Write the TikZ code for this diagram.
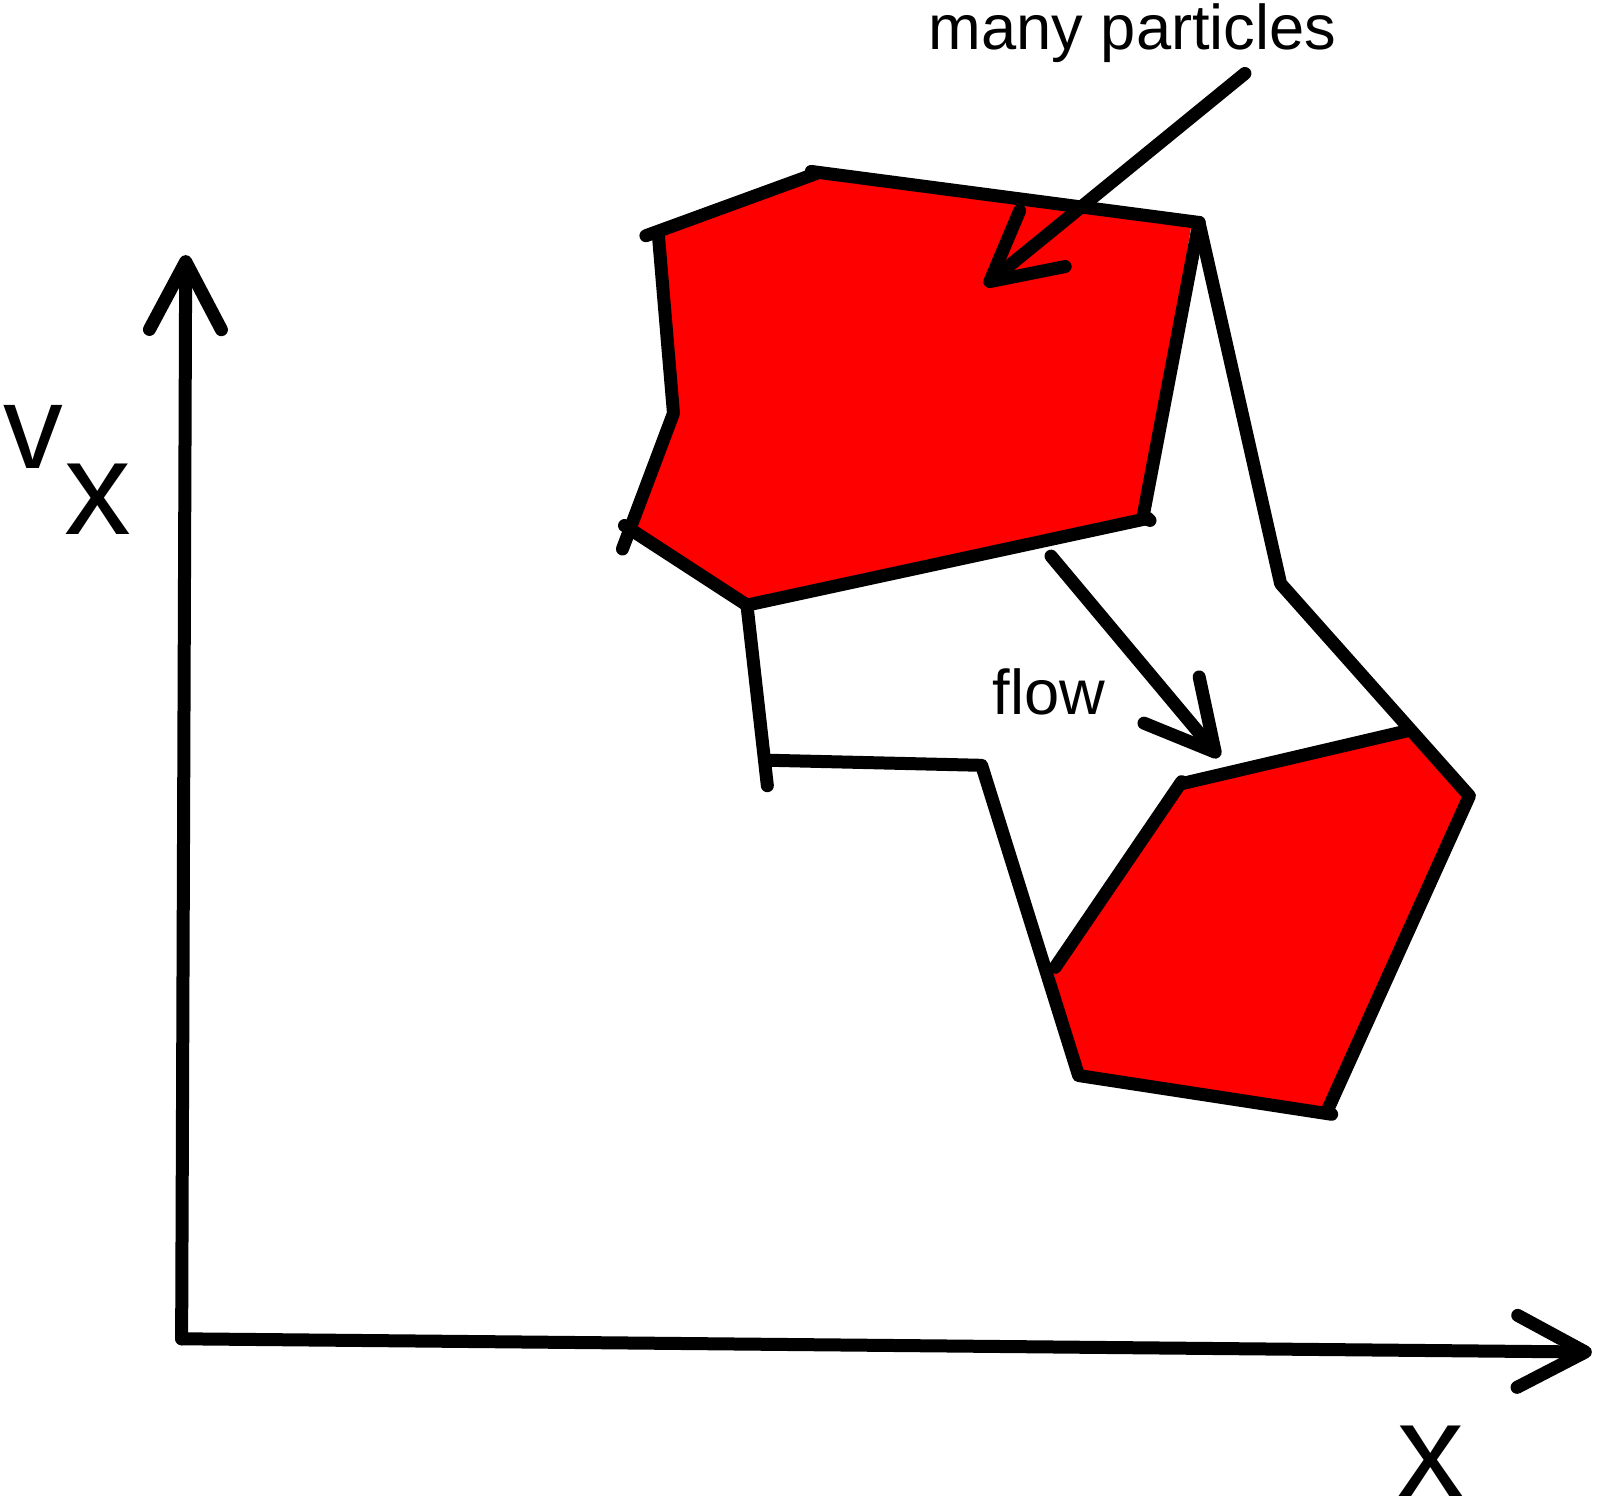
\documentclass[tikz,border=0pt]{standalone}
\usepackage{fontspec}
\setmainfont{Liberation Sans}
\usetikzlibrary{arrows.meta}
\tikzset{
    pen/.style={line width=3.7pt, line cap=round, line join=round},
    barb/.style={-{Straight Barb[length=0.68cm,width=0.72cm,round]}},
    blob/.style={fill=red, draw=none},
    biglabel/.style={font=\fontsize{34}{34}\selectfont, inner sep=0pt},
    axislabel/.style={font=\fontsize{38}{38}\selectfont, inner sep=0pt},
    smalllabel/.style={font=\fontsize{18}{18}\selectfont, inner sep=0pt}
}
\begin{document}
\begin{tikzpicture}[x=0.010204cm, y=-0.010204cm]
    \useasboundingbox (0,0) rectangle (1568,1480);

    % axes
    \coordinate (origin) at (178,1312);
    \coordinate (vtop) at (182,250);
    \coordinate (xend) at (1560,1325);
    \draw[pen, barb] (origin) -- (vtop);
    \draw[pen, barb] (origin) -- (xend);
    \node[biglabel] (vlabel) at (33,428) {v};
    \node[axislabel] (vsub) at (96,489) {x};
    \node[axislabel] (xlabel) at (1402,1432) {x};

    % red blobs
    \fill[blob] (643,228) -- (800,172) -- (1168,218) -- (1120,508)
        -- (732,590) -- (615,517) -- (660,405) -- cycle;
    \fill[blob] (1158,768) -- (1380,716) -- (1440,780) -- (1300,1088)
        -- (1058,1052) -- (1032,952) -- cycle;

    % upper outline
    \draw[pen] (633,231) -- (800,170);
    \draw[pen] (795,168) -- (1175,218);
    \draw[pen] (1175,218) -- (1120,507) -- (1127,510);
    \draw[pen] (1125,508) -- (732,593);
    \draw[pen] (732,593) -- (612,515);
    \draw[pen] (610,538) -- (660,405) -- (645,228);

    % contour
    \draw[pen] (1175,218) -- (1255,572) -- (1440,780) -- (1300,1090);
    \draw[pen] (732,593) -- (752,770);
    \draw[pen] (752,745) -- (962,750) -- (1057,1054) -- (1305,1092);

    % lower outline
    \draw[pen] (1158,768) -- (1380,716);
    \draw[pen] (1034,948) -- (1158,766);

    % labels and their arrows
    \node[smalllabel] (many) at (1110,32) {many particles};
    \coordinate (manystart) at (1220,72);
    \coordinate (manytip) at (965,280);
    \draw[pen, barb] (manystart) -- (manytip);

    \node[smalllabel] (flow) at (1028,678) {flow};
    \coordinate (flowstart) at (1030,545);
    \coordinate (flowtip) at (1195,742);
    \draw[pen, barb] (flowstart) -- (flowtip);
\end{tikzpicture}
\end{document}
